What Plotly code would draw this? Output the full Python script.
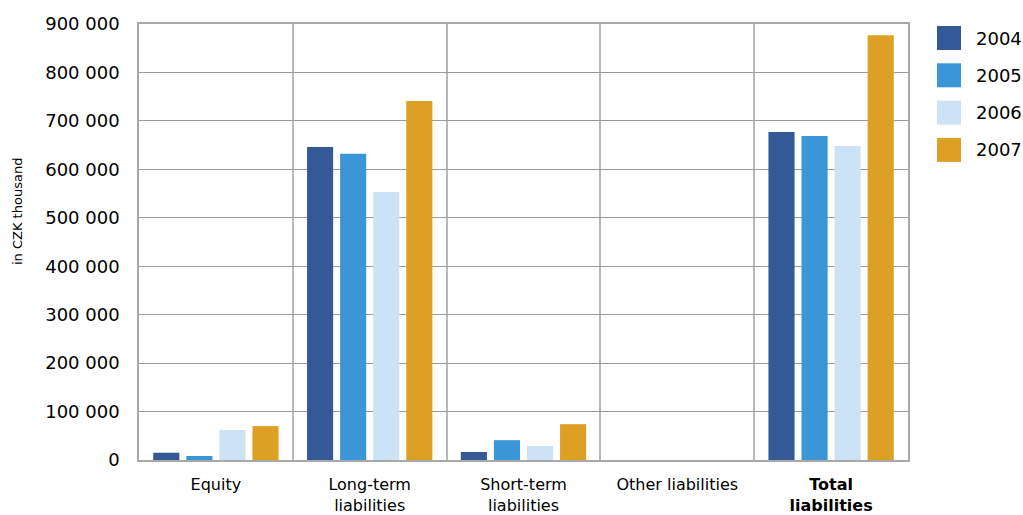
import plotly.graph_objects as go

categories = ["Equity", "Long-term<br>liabilities", "Short-term<br>liabilities",
              "Other liabilities", "<b>Total<br>liabilities</b>"]
years = ["2004", "2005", "2006", "2007"]
colors = ["#335A96", "#3A96D6", "#CCE3F7", "#DBA024"]

values_2004 = [15000, 646000, 16500, 0, 677000]
values_2005 = [8300, 632000, 41000, 0, 669000]
values_2006 = [62000, 553000, 29000, 0, 648000]
values_2007 = [70000, 741000, 74000, 0, 877000]
series = [values_2004, values_2005, values_2006, values_2007]

y_ticks = [0, 100000, 200000, 300000, 400000, 500000, 600000, 700000, 800000, 900000]

W, H = 1023, 515
L, R, T, B = 139, 908, 24, 460   # plot area in pixels

fig = go.Figure()
for name, vals, col in zip(years, series, colors):
    fig.add_trace(go.Bar(x=categories, y=vals, name=name, marker_color=col,
                         marker_line_width=0, showlegend=False))

# Hand-drawn legend with large square swatches
def px_x(p):
    return (p - L) / (R - L)

def px_y(p):
    return (B - p) / (B - T)

shapes = []
annotations = []
for i, (name, col) in enumerate(zip(years, colors)):
    top = 26 + i * 37.3
    shapes.append(dict(type="rect", xref="paper", yref="paper",
                       x0=px_x(937), x1=px_x(961), y0=px_y(top + 24), y1=px_y(top),
                       fillcolor=col, line_width=0))
    annotations.append(dict(xref="paper", yref="paper", x=px_x(974), y=px_y(top + 12),
                            text=name, showarrow=False, xanchor="left", yanchor="middle",
                            font=dict(size=18, color="#000000")))

# y-axis caption placed to the left of the tick labels
annotations.append(dict(xref="paper", yref="paper", x=px_x(17), y=px_y(212),
                        text="in CZK thousand", textangle=-90, showarrow=False,
                        xanchor="center", yanchor="middle",
                        font=dict(size=13, color="#000000")))

fig.update_layout(
    width=W, height=H,
    margin=dict(l=L, r=W - R, t=T, b=H - B, pad=0),
    paper_bgcolor="white", plot_bgcolor="white",
    barmode="group", bargap=0.14, bargroupgap=0.21,
    separators=", ",
    font=dict(family="DejaVu Sans", color="#000000"),
    shapes=shapes, annotations=annotations,
    xaxis=dict(type="category", tickson="boundaries", showgrid=True,
               gridcolor="#b8b8b8", gridwidth=1.5,
               showline=True, linecolor="#a8a8a8", linewidth=1.5, mirror=True,
               ticks="", ticklabelstandoff=9, automargin=False,
               tickfont=dict(size=16, color="#000000")),
    yaxis=dict(range=[0, 900000], tickvals=y_ticks, tickformat=",d",
               showgrid=True, gridcolor="#9a9a9a", gridwidth=1,
               showline=True, linecolor="#a8a8a8", linewidth=1.5, mirror=True,
               zeroline=False, ticks="", ticklabelstandoff=14, automargin=False,
               tickfont=dict(size=18, color="#000000")),
)

fig.write_html("out.html")
